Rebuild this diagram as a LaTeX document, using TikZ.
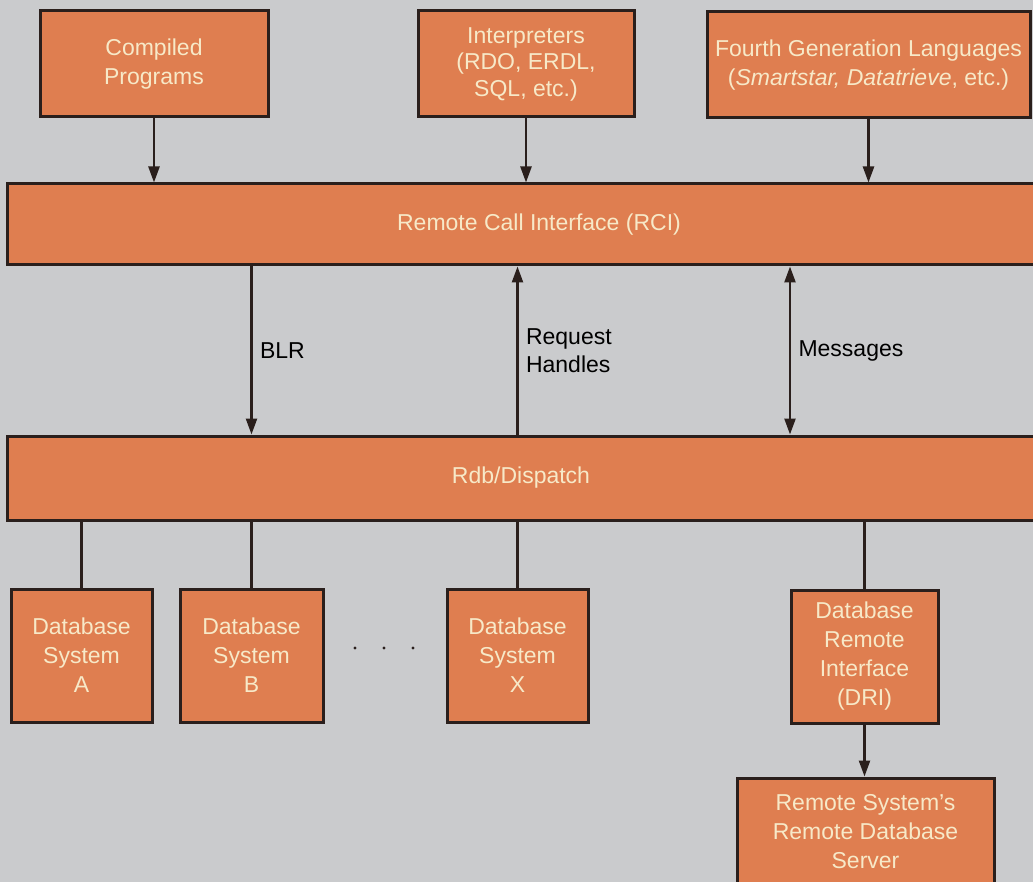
\documentclass[tikz,border=0pt]{standalone}
\usepackage{fontspec}
\setmainfont{Liberation Sans}
\usetikzlibrary{arrows.meta}

\definecolor{paper}{HTML}{CACBCD}
\definecolor{rust}{HTML}{DF7E50}
\definecolor{cream}{HTML}{F7E9C8}
\definecolor{ink}{HTML}{2A1F1C}

\begin{document}
\begin{tikzpicture}[x=1pt,y=-1pt]
    \fill[paper] (0,0) rectangle (1033,882);
    \useasboundingbox (0,0) rectangle (1033,882);
    \clip (0,0) rectangle (1033,882);

    \begin{scope}[every node/.style={rectangle,draw=ink,line width=3pt,fill=rust,
        text=cream,align=center,inner sep=0pt,font=\fontsize{23}{29}\selectfont}]
      % programs calling in
      \node[minimum width=228,minimum height=106] (comp) at (154,64) {Compiled\\Programs};
      \node[minimum width=216,minimum height=106,font=\fontsize{23}{26.5}\selectfont] (interp) at (526,64) {Interpreters\\(RDO, ERDL,\\SQL, etc.)};
      \node[minimum width=323,minimum height=106] (fourth) at (868.5,65) {Fourth Generation Languages\\(\textit{Smartstar, Datatrieve}, etc.)};
      % the two layers
      \node[minimum width=1064,minimum height=81] (rci) at (539,224.5) {Remote Call Interface (RCI)};
      \node[minimum width=1028,minimum height=84] (rdb) at (521,478) {Rdb/Dispatch};
      % database systems
      \node[minimum width=141,minimum height=133] (dbA) at (81.5,655.5) {Database\\System\\A};
      \node[minimum width=143,minimum height=133] (dbB) at (251.5,655.5) {Database\\System\\B};
      \node[minimum width=141,minimum height=133] (dbX) at (517.5,655.5) {Database\\System\\X};
      \node[minimum width=147,minimum height=133] (dri) at (864.5,656.5) {Database\\Remote\\Interface\\(DRI)};
      \node[minimum width=257,minimum height=108] (server) at (865.5,832) {Remote System's\\Remote Database\\Server};
    \end{scope}

    \coordinate (msg) at (790,350);
    \foreach \x in {355,384,413}
      \fill[ink] (\x,648) circle (1.6);

    \begin{scope}[>={Triangle[length=16pt,width=11pt]},
        every node/.style={text=black,font=\fontsize{23}{28}\selectfont,align=left},
        every edge/.style={draw=ink,line width=2.4pt}]
      \path [->] (comp.south) edge (rci.north -| comp.south);
      \path [->] (interp.south) edge (rci.north -| interp.south);
      \path [->] (fourth.south) edge (rci.north -| fourth.south);
      \path [->] (rci.south -| dbB.north) edge node[right=4pt] {BLR} (rdb.north -| dbB.north);
      \path [<-] (rci.south -| dbX.north) edge node[right=4pt] {Request\\Handles} (rdb.north -| dbX.north);
      \path [<->] (rci.south -| msg) edge node[right=4pt] {Messages} (rdb.north -| msg);
      \path (rdb.south -| dbA.north) edge (dbA.north);
      \path (rdb.south -| dbB.north) edge (dbB.north);
      \path (rdb.south -| dbX.north) edge (dbX.north);
      \path (rdb.south -| dri.north) edge (dri.north);
      \path [->] (dri.south) edge (server.north -| dri.south);
    \end{scope}
  \end{tikzpicture}
\end{document}
